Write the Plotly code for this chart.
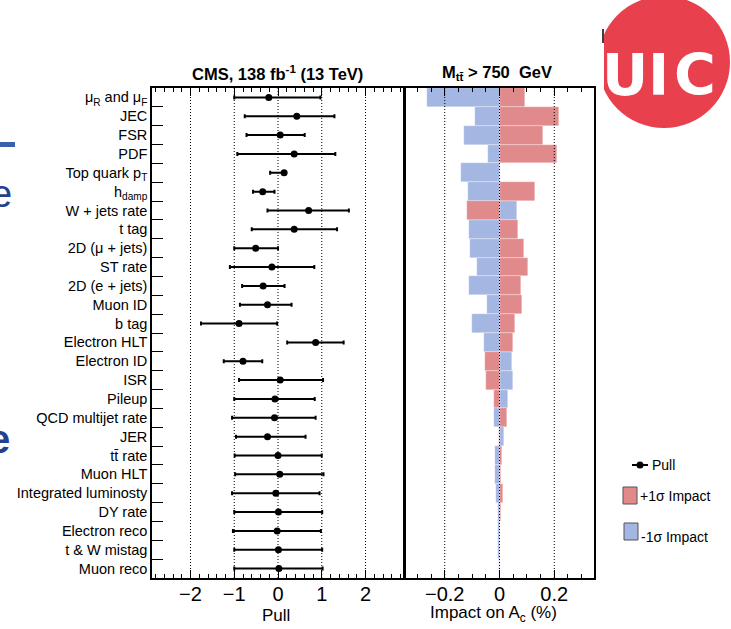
import plotly.graph_objects as go

# Nuisance parameters, top to bottom
labels = [
    "μ<sub>R</sub> and μ<sub>F</sub>", "JEC", "FSR", "PDF", "Top quark p<sub>T</sub>",
    "h<sub>damp</sub>", "W + jets rate", "t tag", "2D (μ + jets)", "ST rate",
    "2D (e + jets)", "Muon ID", "b tag", "Electron HLT", "Electron ID", "ISR",
    "Pileup", "QCD multijet rate", "JER", "tt\u0304 rate", "Muon HLT",
    "Integrated luminosty", "DY rate", "Electron reco", "t & W mistag", "Muon reco",
]

# Post-fit pulls with asymmetric uncertainties
pull = [-0.21, 0.43, 0.05, 0.37, 0.14, -0.35, 0.70, 0.37, -0.51, -0.14,
        -0.34, -0.24, -0.89, 0.86, -0.80, 0.05, -0.07, -0.08, -0.24, 0.00,
        0.04, -0.05, 0.01, -0.02, 0.01, 0.02]
pull_err_minus = [0.79, 1.19, 0.77, 1.30, 0.32, 0.22, 0.94, 0.97, 0.49, 0.96,
                  0.48, 0.63, 0.87, 0.65, 0.44, 0.94, 0.93, 0.97, 0.72, 0.99,
                  1.02, 1.00, 1.01, 1.01, 1.01, 1.02]
pull_err_plus = [1.18, 0.86, 0.56, 0.94, 0.03, 0.27, 0.92, 0.98, 0.51, 0.97,
                 0.49, 0.55, 0.87, 0.64, 0.44, 0.98, 0.91, 0.94, 0.87, 1.00,
                 1.00, 1.00, 1.00, 1.00, 1.00, 1.00]

# Impact on A_c (%) for +1 sigma and -1 sigma variations
impact_up = [0.093, 0.217, 0.160, 0.210, 0.0, 0.128, -0.117, 0.066, 0.088, 0.104,
             0.079, 0.083, 0.056, 0.049, -0.054, -0.051, -0.021, 0.029, -0.002, 0.010,
             0.007, 0.013, 0.006, 0.002, 0.001, 0.0]
impact_down = [-0.265, -0.091, -0.130, -0.041, -0.139, -0.115, 0.063, -0.113, -0.106, -0.082,
               -0.110, -0.045, -0.100, -0.055, 0.044, 0.051, 0.032, -0.020, 0.018, -0.017,
               -0.015, -0.012, -0.007, -0.006, -0.004, -0.002]

pull_ticks = [-2, -1, 0, 1, 2]
impact_ticks = [-0.2, 0, 0.2]
impact_ticktext = ["\u22120.2", "0", "0.2"]

W, H = 731, 629
FONT = "Liberation Sans, Arial, Helvetica, sans-serif"
LOGO_FONT = "DejaVu Sans, sans-serif"
RED = "#e08a8c"
BLUE = "#a4b6e2"


def px(x):
    return x / W


def py(y):
    return 1 - y / H


idx = list(range(len(labels)))
y_dom = [py(578), py(88)]

fig = go.Figure()

fig.add_trace(go.Bar(
    x=impact_down, y=idx, orientation="h", width=1,
    marker=dict(color=BLUE, line=dict(color="rgba(255,255,255,0.6)", width=0.5)),
    xaxis="x2", yaxis="y2", showlegend=False,
))
fig.add_trace(go.Bar(
    x=impact_up, y=idx, orientation="h", width=1,
    marker=dict(color=RED, line=dict(color="rgba(255,255,255,0.6)", width=0.5)),
    xaxis="x2", yaxis="y2", showlegend=False,
))
fig.add_trace(go.Scatter(
    x=pull, y=idx, mode="markers",
    marker=dict(color="black", size=7),
    error_x=dict(type="data", symmetric=False, array=pull_err_plus,
                 arrayminus=pull_err_minus, color="black", thickness=2, width=2),
    xaxis="x", yaxis="y", showlegend=False,
))

shapes = []
for v in pull_ticks:
    shapes.append(dict(type="line", xref="x", yref="y domain", x0=v, x1=v, y0=0, y1=1,
                       line=dict(color="black", width=1, dash="1px,2px"), layer="below"))
for v in impact_ticks:
    shapes.append(dict(type="line", xref="x2", yref="y2 domain", x0=v, x1=v, y0=0, y1=1,
                       line=dict(color="black", width=1, dash="1px,2px"), layer="above"))

# Legend drawn by hand on the right
shapes += [
    dict(type="line", xref="paper", yref="paper", x0=px(632), x1=px(648), y0=py(465), y1=py(465),
         line=dict(color="black", width=2)),
    dict(type="circle", xref="paper", yref="paper", x0=px(636.5), x1=px(643.5), y0=py(468.5), y1=py(461.5),
         fillcolor="black", line=dict(color="black", width=0)),
    dict(type="rect", xref="paper", yref="paper", x0=px(623), x1=px(637), y0=py(504), y1=py(487),
         fillcolor=RED, line=dict(color="#555555", width=1)),
    dict(type="rect", xref="paper", yref="paper", x0=px(624), x1=px(638), y0=py(540), y1=py(523),
         fillcolor=BLUE, line=dict(color="#555555", width=1)),
]

# Logo and slide decorations
shapes += [
    dict(type="circle", xref="paper", yref="paper", x0=px(598), x1=px(730), y0=py(128), y1=py(-4),
         fillcolor="#e8404d", line=dict(width=0), layer="below"),
    dict(type="rect", xref="paper", yref="paper", x0=px(585), x1=px(604), y0=py(140), y1=py(28),
         fillcolor="white", line=dict(width=0), layer="below"),
    dict(type="line", xref="paper", yref="paper", x0=px(603), x1=px(603), y0=py(43), y1=py(29),
         line=dict(color="black", width=1.5), layer="below"),
    dict(type="rect", xref="paper", yref="paper", x0=px(-2), x1=px(15), y0=py(147), y1=py(142),
         fillcolor="#3a62aa", line=dict(width=0), layer="below"),
]

annotations = [
    dict(text="<b>CMS, 138 fb<sup>-1</sup> (13 TeV)</b>", x=px(277), y=py(73), xref="paper", yref="paper",
         showarrow=False, font=dict(size=16.5, color="black", family=FONT), xanchor="center", yanchor="middle"),
    dict(text="<b>M<sub>tt\u0304</sub> > 750\u00a0\u00a0GeV</b>", x=px(497), y=py(73), xref="paper", yref="paper",
         showarrow=False, font=dict(size=16.5, color="black", family=FONT), xanchor="center", yanchor="middle"),
    dict(text="Pull", x=px(276), y=py(615), xref="paper", yref="paper", showarrow=False,
         font=dict(size=17, color="black", family=FONT), xanchor="center", yanchor="middle"),
    dict(text="Impact on A<sub>c</sub> (%)", x=px(493), y=py(614), xref="paper", yref="paper", showarrow=False,
         font=dict(size=17, color="black", family=FONT), xanchor="center", yanchor="middle"),
    dict(text="Pull", x=px(650), y=py(465), xref="paper", yref="paper", showarrow=False,
         font=dict(size=14, color="black", family=FONT), xanchor="left", yanchor="middle"),
    dict(text="+1σ Impact", x=px(638), y=py(496), xref="paper", yref="paper", showarrow=False,
         font=dict(size=14, color="black", family=FONT), xanchor="left", yanchor="middle"),
    dict(text="-1σ Impact", x=px(639), y=py(537), xref="paper", yref="paper", showarrow=False,
         font=dict(size=14, color="black", family=FONT), xanchor="left", yanchor="middle"),
    # UIC logo lettering
    dict(text="<b>U</b>", x=px(625), y=py(75), xref="paper", yref="paper", showarrow=False,
         font=dict(size=57, color="white", family=LOGO_FONT), xanchor="center", yanchor="middle"),
    dict(text="<b>I</b>", x=px(658), y=py(75), xref="paper", yref="paper", showarrow=False,
         font=dict(size=57, color="white", family=LOGO_FONT), xanchor="center", yanchor="middle"),
    dict(text="<b>C</b>", x=px(695), y=py(75), xref="paper", yref="paper", showarrow=False,
         font=dict(size=57, color="white", family=LOGO_FONT), xanchor="center", yanchor="middle"),
    # slide text fragments at the left edge
    dict(text="e", x=px(13), y=py(194), xref="paper", yref="paper", showarrow=False, borderpad=0,
         font=dict(size=38, color="#24408e", family=FONT), xanchor="right", yanchor="middle"),
    dict(text="<b>e</b>", x=px(11), y=py(439), xref="paper", yref="paper", showarrow=False, borderpad=0,
         font=dict(size=40, color="#24408e", family=FONT), xanchor="right", yanchor="middle"),
]

fig.update_layout(
    width=W, height=H,
    margin=dict(l=0, r=0, t=0, b=0),
    paper_bgcolor="white", plot_bgcolor="rgba(0,0,0,0)",
    font=dict(family=FONT, color="black"),
    barmode="overlay", bargap=0,
    showlegend=False,
    shapes=shapes, annotations=annotations,
    xaxis=dict(
        domain=[px(152), px(404)], range=[-2.88, 2.88], anchor="y",
        tickmode="array", tickvals=pull_ticks, ticks="inside", ticklen=8, tickwidth=1,
        tickcolor="black", mirror="allticks", showline=True, linecolor="black", linewidth=1.5,
        showgrid=False, zeroline=False, tickfont=dict(size=20, color="black"),
        ticklabelstandoff=-3,
        minor=dict(tickmode="linear", tick0=0, dtick=0.2, ticks="inside", ticklen=4,
                   tickcolor="black", showgrid=False),
    ),
    yaxis=dict(
        domain=y_dom, range=[25.5, -0.5], anchor="x",
        tickmode="array", tickvals=idx, ticktext=labels, ticks="inside", ticklen=0,
        showline=True, mirror=True, linecolor="black", linewidth=1.5,
        showgrid=False, zeroline=False, tickfont=dict(size=14.5, color="black"),
        minor=dict(tickmode="array", tickvals=[i + 0.5 for i in range(len(labels) - 1)],
                   ticks="inside", ticklen=11, tickcolor="black", showgrid=False),
    ),
    xaxis2=dict(
        domain=[px(405), px(594)], range=[-0.345, 0.345], anchor="y2",
        tickmode="array", tickvals=impact_ticks, ticktext=impact_ticktext,
        ticks="inside", ticklen=8, tickcolor="black", mirror="allticks",
        showline=True, linecolor="black", linewidth=1.5,
        showgrid=False, zeroline=False, tickfont=dict(size=20, color="black"),
        ticklabelstandoff=-3,
        minor=dict(tickmode="linear", tick0=0, dtick=0.05, ticks="inside", ticklen=4,
                   tickcolor="black", showgrid=False),
    ),
    yaxis2=dict(
        domain=y_dom, range=[25.5, -0.5], anchor="x2",
        showticklabels=False, ticks="", showline=True, mirror=True,
        linecolor="black", linewidth=1.5, showgrid=False, zeroline=False,
    ),
)

fig.write_html("out.html")
